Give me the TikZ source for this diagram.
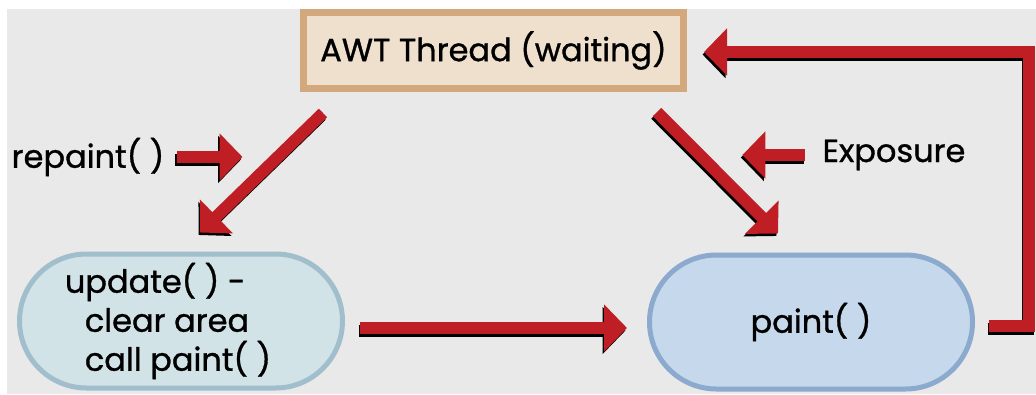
\documentclass[tikz,border=0pt]{standalone}
\usepackage{fontspec}
\setmainfont{Poppins}[FakeBold=1]
\usetikzlibrary{arrows.meta,positioning}
\definecolor{flowred}{RGB}{190,30,36}
\definecolor{bggray}{RGB}{233,233,233}
\definecolor{sandfill}{RGB}{238,224,204}
\definecolor{sandedge}{RGB}{210,168,124}
\definecolor{updfill}{RGB}{210,227,232}
\definecolor{updedge}{RGB}{160,190,204}
\definecolor{paintfill}{RGB}{198,216,236}
\definecolor{paintedge}{RGB}{140,170,206}
\begin{document}
\begin{tikzpicture}[x=1pt,y=-1pt,line join=miter,
	flow/.style={draw=flowred,line width=12pt,-{Triangle[length=23pt,width=46pt]},
		preaction={draw=black,line width=12pt,-{Triangle[length=23pt,width=46pt]},
			transform canvas={shift={(-1.5pt,-2.5pt)}}}},
	lbl/.style={font=\fontsize{32}{36}\selectfont,inner sep=0pt},
	pill/.style={rounded corners=67pt,line width=5pt,minimum width=323pt,minimum height=134pt,lbl}]
	\useasboundingbox (0,0) rectangle (1036,394);
	\fill[bggray] (7,9) rectangle (1036,394);
	
	% the three states
	\node[lbl,draw=sandedge,fill=sandfill,line width=7pt,minimum width=380pt,minimum height=76pt] (awt) at (493.5,50.5) {AWT Thread (waiting)};
	\node[pill,draw=updedge,fill=updfill,align=left,font=\fontsize{32}{39}\selectfont] (upd) at (181,321)
		{update( ) -\\\hspace*{20pt}clear area\\\hspace*{20pt}call paint( )\hspace*{26pt}};
	\node[pill,draw=paintedge,fill=paintfill] (paint) at (811,322) {paint( )};
	
	\node[lbl] (repaint) at (88,157) {repaint( )};
	\node[lbl] (expo) at (894,155) {Exposure};
	
	% calls
	\draw[flow] ([shift={(-170.5,21)}]awt.south) -- ([shift={(19,-19)}]upd.north);
	\draw[flow] ([shift={(163.5,20)}]awt.south) -- ([shift={(-33,-19)}]paint.north);
	\draw[flow] ([shift={(15,7)}]upd.east) -- ([shift={(-20,6)}]paint.west);
	\draw[flow] ([shift={(14,4)}]paint.east) -| ([shift={(342,1.5)}]awt.east) -- ([shift={(17,1.5)}]awt.east);
	\draw[flow] ([xshift=12pt]repaint.east) -- ++(66,0);
	\draw[flow] ([xshift=-17pt]expo.west) -- ++(-63,0);
\end{tikzpicture}
\end{document}
